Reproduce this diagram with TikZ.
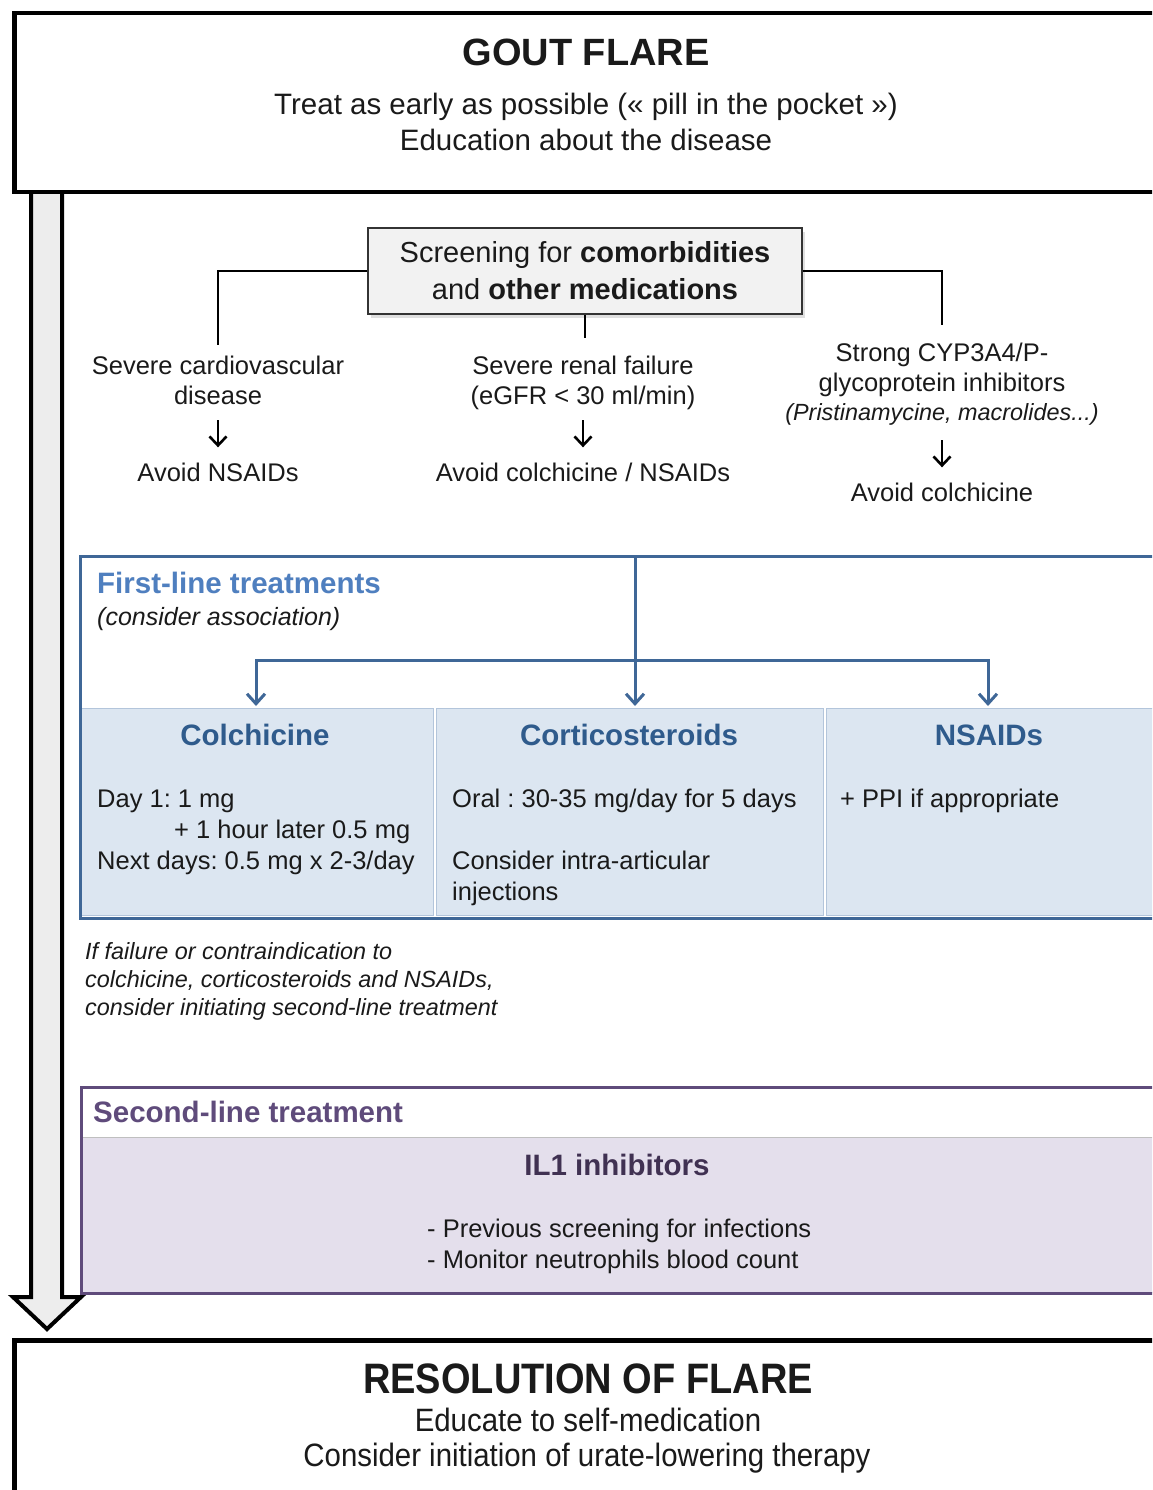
\documentclass[tikz,border=0pt]{standalone}
\usepackage{graphicx}
\usepackage{fontspec}
\setmainfont{Liberation Sans}
\usetikzlibrary{arrows.meta,shadows}
\definecolor{fblue}{HTML}{3F6797}
\definecolor{ftitle}{HTML}{4F7FBF}
\definecolor{ctitle}{HTML}{2F5B8C}
\definecolor{cfill}{HTML}{DCE6F1}
\definecolor{cedge}{HTML}{B3C5DB}
\definecolor{pline}{HTML}{5F4B7B}
\definecolor{pfill}{HTML}{E4DFEC}
\definecolor{ptext}{HTML}{403152}
\definecolor{txtc}{HTML}{1A1A1A}
\newcommand\fsz[1]{\fontsize{#1}{#1}\selectfont}
\frenchspacing
\begin{document}
\begin{tikzpicture}[x=1pt,y=-1pt,
  tx/.style={inner sep=0pt, anchor=base, text=txtc},
  txw/.style={inner sep=0pt, anchor=base west, text=txtc},
  bigbox/.style={draw=black, line width=4.5pt, fill=white, inner sep=0pt, anchor=north west},
  conn/.style={draw=black, line width=2.5pt},
  smallarr/.style={draw=black, line width=2.6pt, -{Straight Barb[length=9pt,width=17pt]}},
  barr/.style={draw=fblue, line width=3pt, -{Straight Barb[length=10pt,width=18pt]}},
  barrtwo/.style={draw=fblue, line width=3pt, {Straight Barb[length=10pt,width=18pt]}-{Straight Barb[length=10pt,width=18pt]}},
  cell/.style={draw=cedge, line width=1.2pt, fill=cfill, inner sep=0pt, anchor=north west},
]
\frenchspacing
\useasboundingbox (0,0) rectangle (1152,1490);
\clip (0,0) rectangle (1152,1490);
\fill[white] (0,0) rectangle (1152,1490);

% big hollow arrow
\draw[line width=4pt, fill=black!7, line join=miter] (31,185) -- (31,1297) -- (13,1297) -- (47,1329) -- (81,1297) -- (62,1297) -- (62,185);

% top box
\node[bigbox, minimum width=1170pt, minimum height=179pt] (flare) at (12,11) {};
\node[tx, font=\fsz{38}\bfseries] (gt) at (586,66) {GOUT FLARE};
\node[tx, font=\fsz{29.5}] (gt1) at (586,115) {Treat as early as possible (« pill in the pocket »)};
\node[tx, font=\fsz{29.5}] (gt2) at (586,151) {Education about the disease};

% screening
\node[draw=black!80, line width=1.5pt, fill=black!5,
  drop shadow={shadow xshift=3pt, shadow yshift=-4pt, opacity=0.25},
  minimum width=434pt, minimum height=86pt, align=center, text=txtc,
  font=\fontsize{29}{37}\selectfont, inner sep=0pt] (scr) at (585,271)
  {Screening for \textbf{comorbidities}\\and \textbf{other medications}};

% conditions
\node[tx, font=\fsz{25.5}] (cv1) at (218,374) {Severe cardiovascular};
\node[tx, font=\fsz{25.5}] (cv2) at (218,404) {disease};
\node[tx, font=\fsz{25.5}] (avn) at (218,481) {Avoid NSAIDs};
\node[tx, font=\fsz{25.5}] (ren1) at (583,374) {Severe renal failure};
\node[tx, font=\fsz{25.5}] (ren2) at (583,404) {(eGFR < 30 ml/min)};
\node[tx, font=\fsz{25.5}] (avc) at (583,481) {Avoid colchicine / NSAIDs};
\node[tx, font=\fsz{25.5}] (cyp1) at (942,361) {Strong CYP3A4/P-};
\node[tx, font=\fsz{25.5}] (cyp2) at (942,391) {glycoprotein inhibitors};
\node[tx, font=\fsz{23.4}\itshape] (cyp3) at (942,420) {(Pristinamycine, macrolides...)};
\node[tx, font=\fsz{25.5}] (avcol) at (942,501) {Avoid colchicine};

\draw[conn] (scr.west) -| ([yshift=10pt]cv1.north);
\draw[conn] (scr.east) -| ([yshift=17pt]cyp1.north);
\draw[conn] (scr.south) -- ([yshift=17pt]scr.south |- ren1.north);
\draw[smallarr] ([yshift=-16pt]cv2.south) -- ([yshift=15pt]avn.north);
\draw[smallarr] ([yshift=-11pt]ren2.south -| avc.north) -- ([yshift=15pt]avc.north);
\draw[smallarr] ([yshift=-15pt]cyp3.south) -- ([yshift=15pt]avcol.north);

% first-line treatments
\node[cell, minimum width=352pt, minimum height=207pt] (colc) at (81,708) {};
\node[cell, minimum width=387pt, minimum height=207pt] (cort) at (436,708) {};
\node[cell, minimum width=360pt, minimum height=207pt] (nsaid) at (826,708) {};
\node[draw=fblue, line width=3pt, inner sep=0pt, anchor=north west, minimum width=1100pt, minimum height=362pt] (first) at (79,555) {};

\node[txw, font=\fsz{29.5}\bfseries, text=ftitle] (ft) at (97,593) {First-line treatments};
\node[txw, font=\fsz{25}\itshape] (fta) at (97,625) {(consider association)};

\coordinate (ftop) at (635,555);
\coordinate (hl) at (256,660);
\coordinate (hr) at (988,660);
\draw[barr] (ftop) -- ([yshift=2pt]ftop |- cort.north);
\draw[barrtwo] ([yshift=2pt]hl |- colc.north) -- (hl) -- (hr) -- ([yshift=2pt]hr |- nsaid.north);

\node[tx, font=\fsz{29.5}\bfseries, text=ctitle] (colct) at (255,745) {Colchicine};
\node[tx, font=\fsz{29.5}\bfseries, text=ctitle] (cortt) at (629,745) {Corticosteroids};
\node[tx, font=\fsz{29.5}\bfseries, text=ctitle] (nsaidt) at (989,745) {NSAIDs};

\node[txw, font=\fsz{25.5}] (c1) at (97,807) {Day 1: 1 mg};
\node[txw, font=\fsz{25.5}] (c2) at (174,838) {+ 1 hour later 0.5 mg};
\node[txw, font=\fsz{25.5}] (c3) at (97,869) {Next days: 0.5 mg x 2-3/day};
\node[txw, font=\fsz{25.5}] (k1) at (452,807) {Oral : 30-35 mg/day for 5 days};
\node[txw, font=\fsz{25.5}] (k2) at (452,869) {Consider intra-articular};
\node[txw, font=\fsz{25.5}] (k3) at (452,900) {injections};
\node[txw, font=\fsz{25.5}] (n1) at (840,807) {+ PPI if appropriate};

% note
\node[txw, font=\fsz{23.4}\itshape] (nt1) at (85,959) {If failure or contraindication to};
\node[txw, font=\fsz{23.4}\itshape] (nt2) at (85,987) {colchicine, corticosteroids and NSAIDs,};
\node[txw, font=\fsz{23.4}\itshape] (nt3) at (85,1015) {consider initiating second-line treatment};

% second-line
\node[draw=black!25, line width=1pt, fill=pfill, inner sep=0pt, anchor=north west, minimum width=1100pt, minimum height=155pt] (il1box) at (81,1137) {};
\node[draw=pline, line width=3pt, inner sep=0pt, anchor=north west, minimum width=1100pt, minimum height=206pt] (second) at (80,1086) {};
\node[txw, font=\fsz{29.5}\bfseries, text=pline] (st) at (93,1122) {Second-line treatment};
\node[tx, font=\fsz{29.5}\bfseries, text=ptext] (il1) at (617,1175) {IL1 inhibitors};
\node[txw, font=\fsz{25.5}] (p1) at (427,1237) {- Previous screening for infections};
\node[txw, font=\fsz{25.5}] (p2) at (427,1268) {- Monitor neutrophils blood count};

% bottom box
\node[bigbox, minimum width=1170pt, minimum height=170pt] (resol) at (12,1338) {};
\node[tx, font=\fsz{38}\bfseries] (rt) at (588,1393) {\scalebox{1}[1.12]{RESOLUTION OF FLARE}};
\node[tx, font=\fsz{29.4}] (rt1) at (588,1431) {\scalebox{1}[1.1]{Educate to self-medication}};
\node[tx, font=\fsz{29.4}] (rt2) at (587,1466) {\scalebox{1}[1.1]{Consider initiation of urate-lowering therapy}};
\end{tikzpicture}
\end{document}
